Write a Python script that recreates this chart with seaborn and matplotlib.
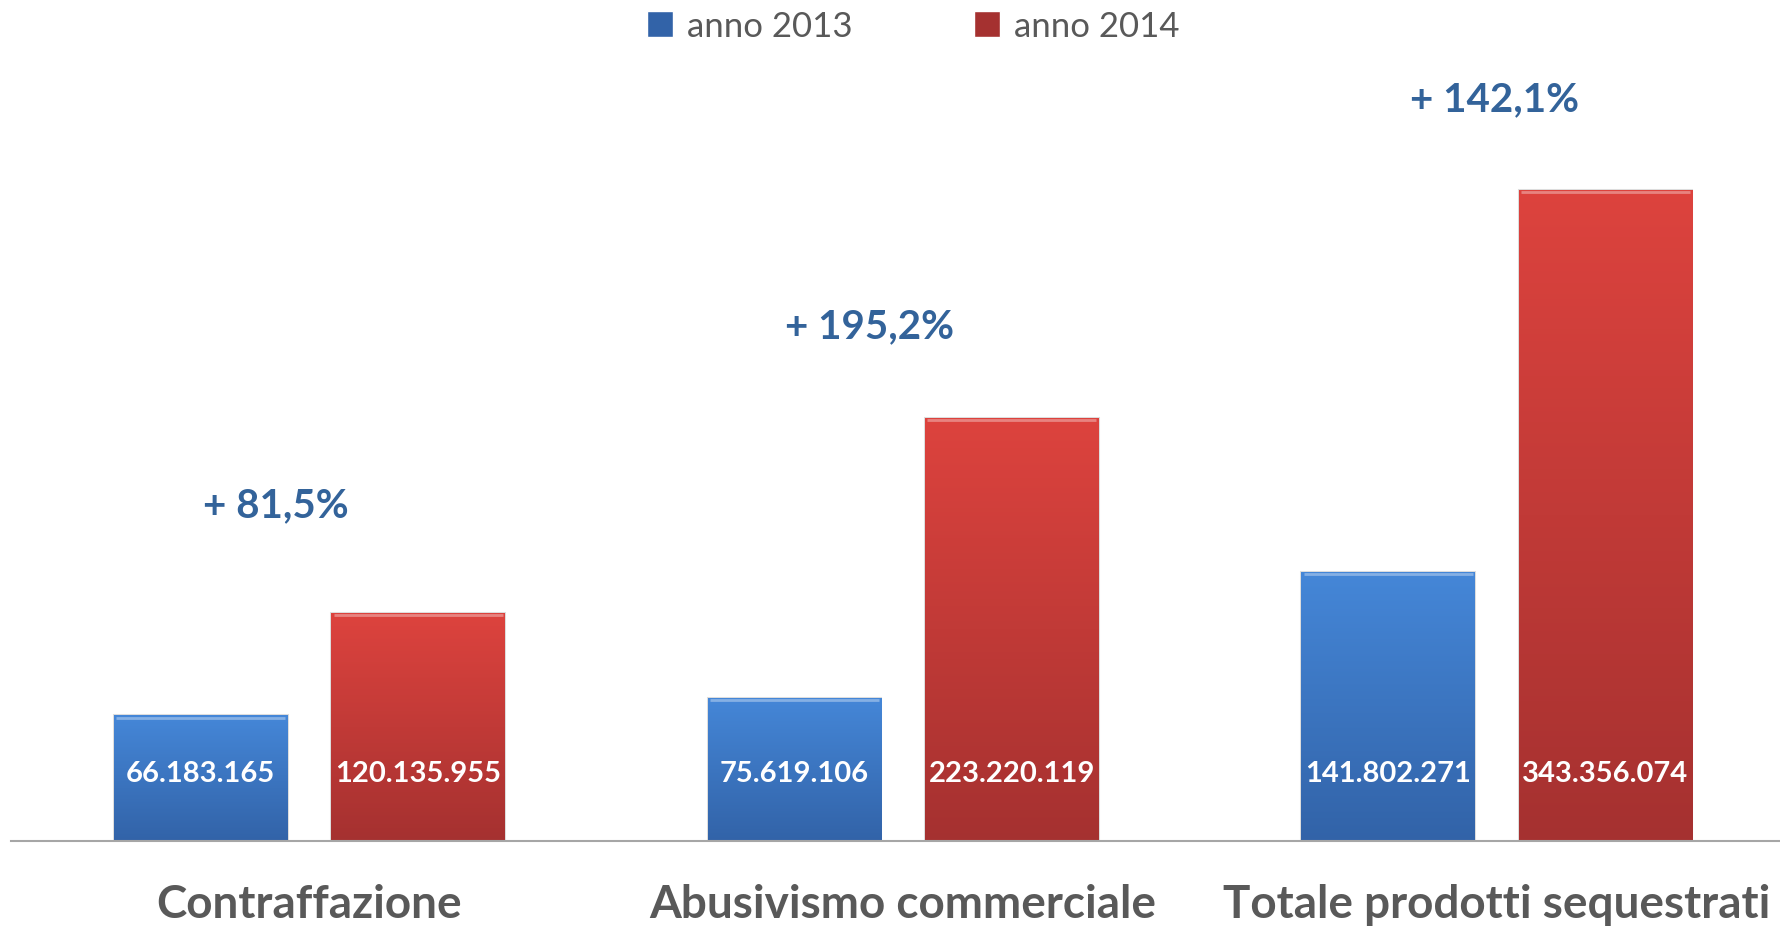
import numpy as np
import pandas as pd
import seaborn as sns
import matplotlib.pyplot as plt
from matplotlib.colors import LinearSegmentedColormap

#DATA
categories = ["Contraffazione", "Abusivismo commerciale", "Totale prodotti sequestrati"]
years = ["anno 2013", "anno 2014"]
values_2013 = [66183165, 75619106, 141802271]
values_2014 = [120135955, 223220119, 343356074]

df = pd.DataFrame({
    "categoria": categories * 2,
    "anno": [years[0]] * 3 + [years[1]] * 3,
    "valore": values_2013 + values_2014,
})

#STYLE
sns.set_style("white")
plt.rcParams["font.family"] = ["Lato", "DejaVu Sans"]
blue_top, blue_bot = "#4587D8", "#3263A8"
red_top, red_bot = "#DD433E", "#A53130"
grey_txt = "#595959"
pct_color = "#33639A"

fig = plt.figure(figsize=(17.8, 9.29), dpi=100)
ax = fig.add_axes([0.0064, 0.0936, 0.9936, 0.9064])

sns.barplot(data=df, x="categoria", y="valore", hue="anno", order=categories, hue_order=years,
            palette=[blue_bot, red_bot], width=0.732, gap=0.2, ax=ax, saturation=1)

#GRADIENT FILL ON BARS
grad = np.linspace(1, 0, 256).reshape(-1, 1)
cmaps = {0: LinearSegmentedColormap.from_list("b", [blue_bot, blue_top]),
         1: LinearSegmentedColormap.from_list("r", [red_bot, red_top])}
bars = [p for p in ax.patches if p.get_height() > 0]
for i, p in enumerate(bars):
    x0, w, h = p.get_x(), p.get_width(), p.get_height()
    cm = cmaps[0] if i < 3 else cmaps[1]
    im = ax.imshow(grad, extent=(x0, x0 + w, 0, h), aspect="auto", cmap=cm, zorder=p.get_zorder() + 0.1)
    im.set_clip_path(p)
    p.set_edgecolor("#00000022")
    p.set_linewidth(1.5)
    # light bevel on top edge
    ax.plot([x0 + 0.004, x0 + w - 0.004], [h - 1.2e6, h - 1.2e6], color="white", alpha=0.35, lw=2,
            solid_capstyle="butt", zorder=p.get_zorder() + 0.2)

#VALUE LABELS INSIDE BARS
for i, p in enumerate(bars):
    v = int(round(p.get_height()))
    ax.text(p.get_x() + p.get_width() / 2, 35.8e6, f"{v:,}".replace(",", "."), ha="center", va="center",
            color="white", fontsize=21, fontweight="bold", zorder=5)

#PERCENT CHANGE
pct_offsets = [(-0.056, 57e6), (-0.056, 48.5e6), (-0.004, 48e6)]
for i, (a, b) in enumerate(zip(values_2013, values_2014)):
    pct = (b / a - 1) * 100
    dx, dy = pct_offsets[i]
    ax.text(i + dx, b + dy, "+ " + f"{pct:.1f}".replace(".", ",") + "%", ha="center", va="center",
            color=pct_color, fontsize=29, fontweight="bold")

ax.set_xlim(-0.502, 2.477)
ax.set_ylim(0, 443.8e6)
ax.set_xlabel("")
ax.set_ylabel("")
ax.set_yticks([])
ax.tick_params(axis="x", length=0, pad=30, labelsize=33, labelcolor=grey_txt)
for lab in ax.get_xticklabels():
    lab.set_fontweight("bold")
for s in ["top", "right", "left"]:
    ax.spines[s].set_visible(False)
ax.spines["bottom"].set_color("#A6A6A6")
ax.spines["bottom"].set_linewidth(1.5)

handles, labels = ax.get_legend_handles_labels()
ax.get_legend().remove()
fig.legend(handles, labels, loc="center", bbox_to_anchor=(0.513, 0.971), ncol=2, frameon=False,
           fontsize=25, labelcolor=grey_txt, handlelength=0.75, handleheight=0.75,
           handletextpad=0.4, columnspacing=3.5)

fig.savefig("out.png", dpi=100)
